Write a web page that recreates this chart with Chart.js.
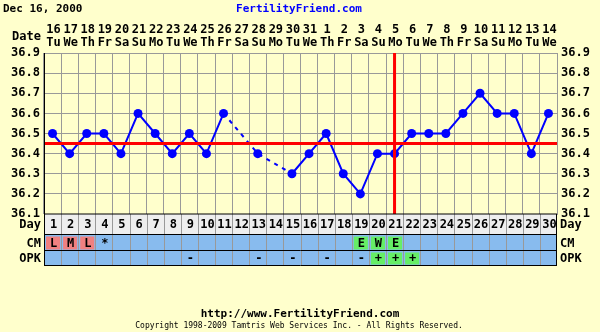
<!DOCTYPE html>
<html lang="en">
<head>
<meta charset="UTF-8">
<title>Fertility chart</title>
<script src="https://cdn.jsdelivr.net/npm/chart.js"></script>
<style>
  body { margin: 0; background: #ffffcc; }
  #wrap { width: 600px; height: 332px; }
</style>
</head>
<body>
<div id="wrap"><canvas id="bbtChart" width="600" height="332"></canvas></div>
<script>
// chart data
const cycleDays = [1,2,3,4,5,6,7,8,9,10,11,12,13,14,15,16,17,18,19,20,21,22,23,24,25,26,27,28,29,30];
const dateNums = ['16','17','18','19','20','21','22','23','24','25','26','27','28','29','30','31','1','2','3','4','5','6','7','8','9','10','11','12','13','14'];
const weekDays = ['Tu','We','Th','Fr','Sa','Su','Mo','Tu','We','Th','Fr','Sa','Su','Mo','Tu','We','Th','Fr','Sa','Su','Mo','Tu','We','Th','Fr','Sa','Su','Mo','Tu','We'];
const temps = [36.5,36.4,36.5,36.5,36.4,36.6,36.5,36.4,36.5,36.4,36.6,null,36.4,null,36.3,36.4,36.5,36.3,36.2,36.4,36.4,36.5,36.5,36.5,36.6,36.7,36.6,36.6,36.4,36.6];
const cmMarks = ['L','M','L','*','','','','','','','','','','','','','','','E','W','E','','','','','','','','',''];
const opkMarks = ['','','','','','','','','-','','','','-','','-','','-','','-','+','+','+','','','','','','','',''];
const coverLine = 36.45;
const ovulationDay = 21;

const FONT = 'bold 12px "DejaVu Sans Mono", monospace';
const FONT_SM = 'bold 11px "DejaVu Sans Mono", monospace';

// 表と見出しの描画
const sheetPlugin = {
    id: 'sheet',
    beforeDraw(chart) {
        const c = chart.ctx;
        c.save();
        c.fillStyle = '#ffffcc';
        c.fillRect(0, 0, chart.width, chart.height);
        c.restore();
    },
    afterDatasetsDraw(chart) {
        const c = chart.ctx;
        const xs = chart.scales.x, ys = chart.scales.y;
        const area = chart.chartArea;
        c.save();
        // coverline + ovulation line
        c.strokeStyle = '#ff0000';
        c.lineWidth = 3;
        c.beginPath();
        const yc = ys.getPixelForValue(coverLine);
        c.moveTo(area.left, yc); c.lineTo(area.right, yc);
        const xo = xs.getPixelForValue(ovulationDay - 1);
        c.moveTo(xo, area.top); c.lineTo(xo, area.bottom);
        c.stroke();
        c.restore();
    },
    afterDraw(chart) {
        const c = chart.ctx;
        const xs = chart.scales.x;
        const area = chart.chartArea;
        const w = xs.getPixelForValue(1) - xs.getPixelForValue(0);
        const rows = [area.bottom, 234.5, 250.5, 265.5];
        c.save();
        c.textBaseline = 'middle';

        // title
        c.font = FONT_SM;
        c.fillStyle = '#000';
        c.textAlign = 'left';
        c.fillText('Dec 16, 2000', 3, 9);
        c.fillStyle = '#0000ff';
        c.textAlign = 'center';
        c.fillText('FertilityFriend.com', 299, 9);

        // date header
        c.font = FONT;
        c.fillStyle = '#000';
        c.textAlign = 'right';
        c.fillText('Date', 41, 37);
        c.textAlign = 'center';
        cycleDays.forEach((d, i) => {
            const x = xs.getPixelForValue(i);
            c.fillText(dateNums[i], x + 1, 30);
            c.fillText(weekDays[i], x + 1, 43);
        });

        // row backgrounds
        c.fillStyle = '#eeeeee';
        c.fillRect(area.left, rows[0], area.right - area.left, rows[1] - rows[0]);
        c.fillStyle = '#88bbee';
        c.fillRect(area.left, rows[1], area.right - area.left, rows[3] - rows[1]);

        // marked cells
        cycleDays.forEach((d, i) => {
            const x = xs.getPixelForValue(i);
            const l = x - w / 2;
            if (cmMarks[i] === 'L' || cmMarks[i] === 'M') {
                c.fillStyle = '#f08080';
                c.fillRect(l + 2, rows[1] + 2, w - 3, rows[2] - rows[1] - 3);
            } else if (cmMarks[i] === 'E' || cmMarks[i] === 'W') {
                c.fillStyle = '#66ee66';
                c.fillRect(l + 2, rows[1] + 2, w - 3, rows[2] - rows[1] - 3);
            }
            if (opkMarks[i] === '+') {
                c.fillStyle = '#66ee66';
                c.fillRect(l + 2, rows[2] + 2, w - 3, rows[3] - rows[2] - 3);
            }
        });

        // table grid
        c.strokeStyle = '#999999';
        c.lineWidth = 1;
        c.beginPath();
        for (let i = 1; i < cycleDays.length; i++) {
            const x = Math.round(xs.getPixelForValue(i) - w / 2) + 0.5;
            c.moveTo(x, rows[0]); c.lineTo(x, rows[3]);
        }
        c.stroke();
        c.strokeStyle = '#000';
        c.beginPath();
        rows.forEach(y => { c.moveTo(area.left, y); c.lineTo(area.right, y); });
        c.moveTo(area.left + 0.5, area.top); c.lineTo(area.left + 0.5, rows[3]);
        c.moveTo(area.right - 0.5, rows[0]); c.lineTo(area.right - 0.5, rows[3]);
        c.stroke();

        // row texts
        c.fillStyle = '#000';
        c.textAlign = 'center';
        cycleDays.forEach((d, i) => {
            const x = xs.getPixelForValue(i) + 1;
            c.fillText(String(d), x, (rows[0] + rows[1]) / 2 + 1);
            if (cmMarks[i]) c.fillText(cmMarks[i], x, (rows[1] + rows[2]) / 2 + 1);
            if (opkMarks[i]) c.fillText(opkMarks[i], x, (rows[2] + rows[3]) / 2 + 1);
        });
        const labels = ['Day', 'CM', 'OPK'];
        labels.forEach((t, k) => {
            const y = (rows[k] + rows[k + 1]) / 2 + 1;
            c.textAlign = 'right';
            c.fillText(t, 41, y);
            c.textAlign = 'left';
            c.fillText(t, 560, y);
        });

        // footer
        c.font = FONT_SM;
        c.textAlign = 'center';
        c.fillText('http://www.FertilityFriend.com', 300, 314);
        c.font = '8px "DejaVu Sans Mono", monospace';
        c.fillText('Copyright 1998-2009 Tamtris Web Services Inc. - All Rights Reserved.', 299, 326);
        c.restore();
    }
};

const tickFmt = v => Number(v).toFixed(1);

const bbtChart = new Chart(document.getElementById('bbtChart'), {
    type: 'line',
    data: {
        labels: cycleDays,
        datasets: [{
            data: temps,
            borderColor: '#0000ff',
            backgroundColor: '#0000ff',
            borderWidth: 2,
            pointRadius: 4.5,
            pointBackgroundColor: '#0000ff',
            pointBorderWidth: 0,
            tension: 0,
            spanGaps: true,
            segment: {
                // 欠測日をまたぐ区間は破線
                borderDash: ctx => (ctx.p0.skip || ctx.p1.skip ? [4, 5] : undefined)
            }
        }]
    },
    options: {
        responsive: false,
        animation: false,
        events: [],
        layout: { padding: { top: 53, bottom: 118, left: 0, right: 0 } },
        plugins: { legend: { display: false }, tooltip: { enabled: false } },
        scales: {
            x: {
                type: 'category',
                offset: true,
                grid: { offset: true, color: '#999999', drawTicks: false },
                border: { display: false },
                ticks: { display: false },
                afterFit: s => { s.height = 0; }
            },
            y: {
                min: 36.1, max: 36.9,
                ticks: { stepSize: 0.1, callback: tickFmt, color: '#000', font: { family: 'DejaVu Sans Mono', size: 12, weight: 'bold' }, padding: 4 },
                grid: { color: '#999999', drawTicks: false },
                border: { color: '#000' },
                afterFit: s => { s.width = 44; }
            },
            y2: {
                position: 'right',
                min: 36.1, max: 36.9,
                ticks: { stepSize: 0.1, callback: tickFmt, color: '#000', font: { family: 'DejaVu Sans Mono', size: 12, weight: 'bold' }, padding: 4 },
                grid: { drawOnChartArea: false, drawTicks: false },
                border: { color: '#999999' },
                afterFit: s => { s.width = 43; }
            }
        }
    },
    plugins: [sheetPlugin]
});
</script>
</body>
</html>
